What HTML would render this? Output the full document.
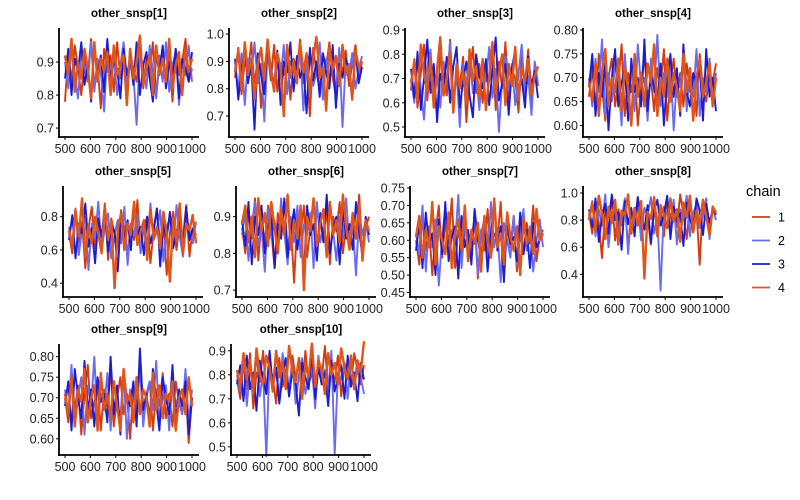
<!DOCTYPE html>
<html><head><meta charset="utf-8"><style>
body{margin:0;background:#fff}
svg{display:block;font-family:"Liberation Sans",Arial,sans-serif}
</style></head><body>
<svg id="chart" width="800" height="500" viewBox="0 0 800 500"></svg>
<script>
const iterStart = 500, iterEnd = 1000;
const xTicks = [500,600,700,800,900,1000];
const chainIds = [1,2,3,4];
const panelTitles = ["other_snsp[1]","other_snsp[2]","other_snsp[3]","other_snsp[4]","other_snsp[5]","other_snsp[6]","other_snsp[7]","other_snsp[8]","other_snsp[9]","other_snsp[10]"];
const yTickLabels = [
 ["0.7","0.8","0.9"],["0.7","0.8","0.9","1.0"],["0.5","0.6","0.7","0.8","0.9"],["0.60","0.65","0.70","0.75","0.80"],
 ["0.4","0.6","0.8"],["0.7","0.8","0.9"],["0.45","0.50","0.55","0.60","0.65","0.70","0.75"],["0.4","0.6","0.8","1.0"],
 ["0.60","0.65","0.70","0.75","0.80"],["0.5","0.6","0.7","0.8","0.9"]];
const yDomains = [[0.676,0.997],[0.627,1.015],[0.463,0.9],[0.578,0.80],[0.323,0.973],[0.684,0.978],[0.44,0.75],[0.24,1.037],[0.563,0.826],[0.47,0.92]];
// values (in hundredths) per panel, per chain
const p1 = [
[78,93,84,95,88,80,91,86,97,83,89,76,94,87,92,81,96,85,90,79,93,88,84,95,82,91,87,96,80,89,93,85,92,78,94,86,90,97,84,88],
[90,82,95,86,79,93,88,84,96,81,91,87,75,94,85,92,80,89,96,83,90,86,71,93,88,82,95,87,79,92,84,96,81,89,93,77,90,86,95,84],
[85,94,80,91,87,96,83,89,78,95,86,92,81,97,84,90,88,79,94,86,91,83,96,80,89,93,85,78,92,87,95,82,90,86,94,79,91,88,84,93],
[92,86,97,81,90,85,94,88,79,96,84,91,87,93,80,95,86,89,92,77,94,85,90,98,83,88,92,80,95,86,91,84,97,82,89,93,80,94,87,91]];
const p2 = [
[84,95,78,90,86,97,81,92,73,88,94,83,96,79,89,85,93,76,91,87,98,82,90,70,95,86,80,93,88,97,84,77,91,86,94,81,89,96,83,90],
[88,80,93,74,91,85,97,82,89,68,94,86,79,92,84,96,78,90,87,83,95,72,89,93,81,86,97,76,91,84,88,79,95,66,90,85,93,80,87,92],
[91,76,87,95,82,89,65,93,85,78,96,88,81,94,74,90,86,97,79,92,84,88,71,95,83,90,77,93,86,80,96,73,89,84,91,87,78,94,82,88],
[86,94,80,97,85,91,76,89,95,83,98,87,79,93,88,70,96,84,90,82,97,86,93,78,91,99,84,88,72,95,87,92,81,96,85,89,76,94,88,90]];
const p3 = [
[65,78,58,72,84,61,75,68,55,80,70,63,86,59,74,67,79,52,71,83,64,76,60,73,69,81,57,77,66,85,62,74,70,56,79,68,82,61,75,67],
[70,60,79,66,53,75,82,63,71,58,77,68,85,61,73,50,76,67,80,64,72,57,78,69,83,62,74,48,70,79,65,76,59,72,84,63,71,55,77,68],
[74,62,81,57,70,86,64,76,52,72,67,79,60,75,83,58,69,77,63,54,80,71,66,78,59,73,87,61,68,76,55,74,82,64,70,58,79,67,73,62],
[68,77,61,84,72,65,79,58,74,87,63,70,81,56,76,66,73,60,82,69,75,62,78,57,71,85,64,72,80,59,76,67,83,61,74,69,78,63,71,75]];
const p4 = [
[66,72,63,75,68,61,70,74,64,69,77,62,71,67,73,60,68,75,65,70,63,72,68,76,61,69,74,66,71,64,73,67,70,62,75,68,65,71,69,73],
[70,64,74,67,78,62,71,65,73,69,60,75,66,72,63,77,68,70,61,74,67,79,64,71,66,73,59,70,68,75,63,72,66,76,62,70,67,74,65,71],
[68,75,62,71,66,73,59,70,76,64,69,72,61,74,67,70,64,78,63,71,68,65,73,60,70,75,66,72,62,77,67,64,71,69,73,61,76,66,70,63],
[69,65,73,62,71,76,64,70,67,74,63,72,68,60,75,66,71,64,73,69,77,62,70,66,74,65,71,68,63,75,67,72,61,70,74,66,69,73,64,70]];
const p5 = [
[70,58,82,64,77,49,73,86,61,75,67,88,54,79,69,62,84,71,57,76,66,90,59,74,80,52,72,85,63,78,45,70,83,60,76,68,87,56,73,65],
[74,63,85,57,72,80,48,76,67,89,60,73,82,55,70,78,64,86,51,75,69,81,58,77,62,88,66,71,84,53,74,79,61,87,68,56,80,72,64,77],
[66,81,55,76,70,88,62,73,52,79,68,84,59,75,71,47,82,65,78,60,87,69,74,57,80,64,72,85,50,76,67,83,61,71,79,58,86,66,73,69],
[72,62,84,68,91,56,75,64,80,70,58,86,66,77,37,73,82,60,76,69,89,63,71,78,54,85,67,74,61,83,70,41,79,65,88,58,76,72,81,64]];
const p6 = [
[87,80,92,84,95,78,89,83,93,86,76,91,85,94,81,88,72,90,85,93,79,87,95,82,89,84,92,77,90,86,94,80,88,83,91,85,96,79,87,90],
[85,91,78,88,94,82,87,75,92,84,89,80,95,86,77,90,83,93,79,88,85,91,76,94,83,87,80,92,86,78,90,84,95,81,88,74,91,85,89,83],
[89,82,94,77,90,85,93,80,87,91,76,88,84,95,79,86,92,81,89,74,93,85,88,78,91,83,96,80,87,90,77,92,84,88,81,94,86,79,90,85],
[88,93,83,90,79,95,86,91,82,94,87,80,92,85,96,81,89,84,93,70,90,86,95,82,88,92,79,94,85,89,83,96,87,81,91,84,93,78,89,86]];
const p7 = [
[60,53,67,57,64,50,62,70,55,65,59,72,52,63,58,68,54,61,66,49,63,57,69,55,62,60,71,53,64,58,67,51,62,56,65,59,70,54,61,63],
[62,56,70,51,64,58,66,47,61,69,55,63,59,73,52,65,60,56,68,50,62,66,54,71,58,63,48,65,60,55,67,53,62,69,57,64,51,60,66,58],
[57,65,52,68,59,62,50,66,56,71,54,61,64,49,67,58,63,53,69,60,55,65,51,62,70,57,64,48,66,59,61,54,68,56,63,52,65,58,60,62],
[61,67,55,63,58,71,53,64,60,56,68,52,62,66,57,70,54,63,59,65,51,67,60,55,72,58,62,53,68,61,57,64,50,66,59,63,56,69,60,62]];
const p8 = [
[85,70,95,78,52,90,82,98,65,88,76,93,60,86,80,97,72,89,83,62,94,79,87,68,96,81,91,75,99,84,66,92,78,88,47,95,83,73,90,86],
[82,94,68,88,76,99,60,85,91,72,80,96,55,87,78,93,65,89,84,97,70,82,28,90,86,75,95,62,88,81,98,68,85,92,74,83,96,66,89,80],
[88,75,96,64,83,92,70,99,80,86,58,94,77,89,68,97,82,73,91,63,87,95,76,84,98,66,90,79,85,61,93,81,72,96,87,69,92,78,88,84],
[80,93,72,98,85,66,90,78,95,62,87,83,99,70,89,76,94,37,86,81,97,68,91,84,74,96,79,88,64,93,82,98,71,87,77,95,83,69,90,85]];
const p9 = [
[70,64,76,67,73,61,71,78,65,69,74,62,72,68,77,63,70,75,66,71,60,73,67,79,64,70,74,62,72,68,76,65,71,63,74,69,66,73,59,70],
[72,66,78,63,70,75,61,73,68,80,64,71,67,76,62,74,69,65,77,60,72,70,66,78,63,71,74,67,79,64,70,73,62,75,68,71,66,77,64,72],
[68,74,62,77,70,65,79,67,72,63,75,69,71,64,80,66,73,61,76,70,68,74,63,82,67,71,65,77,69,62,75,70,66,78,64,72,68,74,61,70],
[71,66,75,63,72,69,77,64,70,73,62,76,67,71,65,74,68,62,77,69,71,64,75,66,72,70,63,76,67,73,65,71,69,74,62,70,72,66,75,68]];
const p10 = [
[78,70,85,74,89,66,81,77,90,72,83,79,68,87,75,82,71,88,79,84,73,90,76,81,69,86,78,92,74,83,77,88,71,85,80,75,89,82,76,84],
[80,73,88,67,83,77,90,71,81,46,86,75,82,70,89,78,74,85,68,80,87,72,79,84,66,88,76,82,73,90,47,81,78,85,70,87,75,83,79,72],
[76,84,69,88,74,81,65,86,78,72,90,75,83,68,80,87,71,82,77,63,85,79,74,89,70,83,76,81,67,86,73,79,84,70,88,75,81,69,85,78],
[82,75,89,78,86,72,91,80,76,88,83,73,90,79,85,74,92,81,77,87,70,84,79,93,75,86,82,72,89,80,85,76,91,83,78,88,74,86,81,94]];
const panelValues = [p1,p2,p3,p4,p5,p6,p7,p8,p9,p10];

const NS="http://www.w3.org/2000/svg";
const svg=document.getElementById('chart');
const chainColors=["#d13c12","#6a6af2","#1c1cd0","#e0561a"];
const layout=[[59,30,137],[229,30,137],[405,30,137],[583,30,137],[63,188,297],[236,188,297],[410,188,297],[583,188,297],[59,346,455],[231,346,455]];
function mk(tag,attrs,parent){const e=document.createElementNS(NS,tag);for(const k in attrs)e.setAttribute(k,attrs[k]);(parent||svg).appendChild(e);return e;}

panelTitles.forEach((title,pi)=>{
  const [ax,top,bot]=layout[pi];
  const [y0,y1]=yDomains[pi];
  const x=v=>ax+6+(v-iterStart)/(iterEnd-iterStart)*127;
  const y=v=>bot-1-(v-y0)/(y1-y0)*(bot-1-top);
  const g=mk('g',{});
  
  
  const t=mk('text',{x:ax+70,y:top-13,'text-anchor':'middle','font-size':'11.5','font-weight':'bold',fill:'#000'},g);
  t.textContent=title;
  
  
  panelValues[pi].forEach((vals,ci)=>{
    const n=vals.length;
    const pts=vals.map((v,i)=>x(iterStart+i*(iterEnd-iterStart)/(n-1)).toFixed(1)+','+y(v/100).toFixed(1)).join(' ');
    const pl=mk('polyline',{points:pts,fill:'none',stroke:chainColors[ci],'stroke-width':ci===3?'2.4':'1.9','stroke-linejoin':'round'},g);
    
    
  });
  const ya=mk('line',{x1:ax,y1:top-2,x2:ax,y2:bot+1,stroke:'#000','stroke-width':'1.8'},g);
  
  
  const xa=mk('line',{x1:ax-1,y1:bot,x2:ax+140,y2:bot,stroke:'#000','stroke-width':'1.8'},g);
  
  
  yTickLabels[pi].forEach(lbl=>{
    const yy=y(parseFloat(lbl));
    mk('line',{x1:ax-3,y1:yy,x2:ax,y2:yy,stroke:'#000','stroke-width':'1'},g);
    const tl=mk('text',{x:ax-5,y:yy+4.5,'text-anchor':'end','font-size':'12.5',fill:'#222'},g);
    tl.textContent=lbl;
    
    
  });
  xTicks.forEach(v=>{
    const xx=x(v);
    mk('line',{x1:xx,y1:bot,x2:xx,y2:bot+3,stroke:'#000','stroke-width':'1'},g);
    const tl=mk('text',{x:xx,y:bot+16,'text-anchor':'middle','font-size':'12.5',fill:'#222'},g);
    tl.textContent=v;
    
    
  });
});

const lg=mk('g',{});


const lt=mk('text',{x:746,y:196,'font-size':'14.5',fill:'#000'},lg);
lt.textContent='chain';


chainIds.forEach((c,i)=>{
  const yy=217+i*23.5;
  const ll=mk('line',{x1:752,y1:yy,x2:770,y2:yy,stroke:chainColors[i],'stroke-width':'1.8'},lg);
  
  
  const tx=mk('text',{x:778,y:yy+4.5,'font-size':'12.5',fill:'#000'},lg);
  tx.textContent=c;
  
  
});
</script>
</body></html>
